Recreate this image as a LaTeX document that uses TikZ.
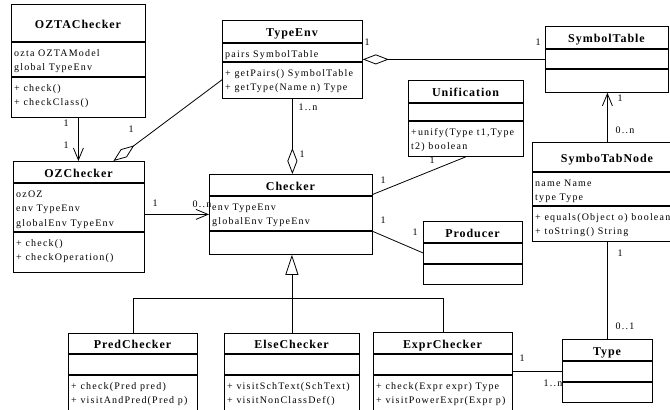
\documentclass[tikz,border=0pt]{standalone}
\usepackage{fontspec}
\setmainfont{Liberation Serif}
\newfontfamily\attrfont{Liberation Serif}[LetterSpace=12]
\newfontfamily\titlefont{Liberation Serif}[LetterSpace=8]
\usetikzlibrary{arrows.meta,calc}

% strut fixing the height of the first member line
\newcommand\lh{\rule{0pt}{8pt}}

% class box: name, left, top, right, bottom, first rule, second rule, title
\newcommand\umlclass[8]{%
  \node[classbox, minimum width={#4-#2}, minimum height={#5-#3}] (#1) at (#2,#3) {};
  \draw[seprule] (#2,#6) -- (#4,#6);
  \draw[seprule] (#2,#7) -- (#4,#7);
  \node[ctitle] (#1-title) at ({(#2+#4)/2},{(#3+#6)/2+5}) {#8};
}
% member list: node name, left, rule above, text
\newcommand\umlmembers[4]{%
  \node[members] (#1) at ({#2+3},{#3+6}) {\lh #4};
}

\begin{document}
\begin{tikzpicture}[x=1pt,y=-1pt,
  classbox/.style={draw, line width=0.8pt, inner sep=0pt, anchor=north west, fill=white},
  seprule/.style={line width=2pt},
  ctitle/.style={font=\titlefont\bfseries\fontsize{12}{14}\selectfont, inner sep=0pt, anchor=base},
  members/.style={font=\attrfont\fontsize{10}{14.5}\selectfont, align=left, inner sep=0pt, anchor=north west},
  mult/.style={font=\attrfont\fontsize{10}{12}\selectfont, inner sep=0pt},
  conn/.style={line width=0.8pt},
  aggr/.style={conn, {Diamond[open,fill=white,length=26pt,width=10pt]}-},
  nav/.style={conn, -{Straight Barb[length=12pt,width=10pt]}},
  inherit/.style={conn, -{Triangle[open,fill=white,length=20pt,width=13pt]}},
]
\useasboundingbox (0,0) rectangle (670,410);
\fill[white] (0,0) rectangle (670,410);
\clip (0,0) rectangle (670,410);

% ---------- classes ----------
\umlclass{oztachecker}{11}{4}{145}{117}{42}{77}{OZTAChecker}
\umlmembers{oztachecker-attrs}{11}{42}{ozta OZTAModel\\global TypeEnv}
\umlmembers{oztachecker-ops}{11}{77}{+ check()\\+ checkClass()}

\umlclass{typeenv}{222}{20}{362}{98}{43}{62}{TypeEnv}
\umlmembers{typeenv-attrs}{222}{43}{pairs SymbolTable}
\umlmembers{typeenv-ops}{222}{62}{+ getPairs() SymbolTable\\+ getType(Name n) Type}

\umlclass{symboltable}{545}{26}{668}{92}{49}{69}{SymbolTable}

\umlclass{unification}{408}{80}{523}{156}{103}{121}{Unification}
\umlmembers{unification-ops}{408}{121}{+unify(Type t1,Type\\t2) boolean}

\umlclass{symbotabnode}{532}{142}{682}{241}{172}{206}{SymboTabNode}
\umlmembers{symbotabnode-attrs}{532}{172}{name Name\\type Type}
\umlmembers{symbotabnode-ops}{532}{206}{+ equals(Object o) boolean\\+ toString() String}

\umlclass{ozchecker}{13}{161}{144}{272}{183}{232}{OZChecker}
\umlmembers{ozchecker-attrs}{13}{183}{ozOZ\\env TypeEnv\\globalEnv TypeEnv}
\umlmembers{ozchecker-ops}{13}{232}{+ check()\\+ checkOperation()}

\umlclass{checker}{209}{174}{372}{254}{196}{231}{Checker}
\umlmembers{checker-attrs}{209}{196}{env TypeEnv\\globalEnv TypeEnv}

\umlclass{producer}{423}{221}{522}{284}{243}{264}{Producer}

\umlclass{predchecker}{68}{333}{197}{416}{354}{375}{PredChecker}
\umlmembers{predchecker-ops}{68}{375}{+ check(Pred pred)\\+ visitAndPred(Pred p)}

\umlclass{elsechecker}{224}{333}{359}{416}{354}{375}{ElseChecker}
\umlmembers{elsechecker-ops}{224}{375}{+ visitSchText(SchText)\\+ visitNonClassDef()}

\umlclass{exprchecker}{373}{332}{512}{416}{354}{375}{ExprChecker}
\umlmembers{exprchecker-ops}{373}{375}{+ check(Expr expr) Type\\+ visitPowerExpr(Expr p)}

\umlclass{type}{562}{339}{652}{402}{361}{382}{Type}

% ---------- relations ----------
\draw[nav] (oztachecker.south) -- (oztachecker.south |- ozchecker.north);
\draw[aggr] ([xshift=34.5pt]ozchecker.north) -- ([yshift=19pt]typeenv.south west);
\draw[aggr] (typeenv.east) -- (symboltable.west);
\draw[aggr] (typeenv.south |- checker.north) -- (typeenv.south);
\draw[nav] (checker.west -| ozchecker.east) -- (checker.west);
\draw[conn] ([yshift=20pt]checker.east) -- (unification.south);
\draw[conn] ([yshift=-17pt]checker.east) -- (producer.west);
\draw[nav] (symbotabnode.north) -- (symbotabnode.north |- symboltable.south);
\draw[conn] (type.north) -- (type.north |- symbotabnode.south);
\draw[conn] (type.west -| exprchecker.east) -- (type.west);

% generalization tree
\coordinate (genbus) at (0,298);
\draw[inherit] (elsechecker.north) -- (elsechecker.north |- checker.south);
\draw[conn] (predchecker.north) -- (predchecker.north |- genbus)
  -- (exprchecker.north |- genbus) -- (exprchecker.north);

% ---------- multiplicities ----------
\node[mult] (mul-ozta) at (66,123) {1};
\node[mult] (mul-oz-top) at (66,145) {1};
\node[mult] (mul-oz-env) at (131,129) {1};
\node[mult] (mul-env-st) at (367,42) {1};
\node[mult] (mul-st-env) at (538,42) {1};
\node[mult] (mul-env-ck) at (308,107) {1..n};
\node[mult] (mul-ck-env) at (302,154) {1};
\node[mult] (mul-oz-ck) at (155,203) {1};
\node[mult] (mul-ck-oz) at (202,204) {0..n};
\node[mult] (mul-ck-un) at (383,180) {1};
\node[mult] (mul-un-ck) at (432,160) {1};
\node[mult] (mul-ck-pr) at (383,220) {1};
\node[mult] (mul-pr-ck) at (415,232) {1};
\node[mult] (mul-st-node) at (620,98) {1};
\node[mult] (mul-node-st) at (625,130) {0..n};
\node[mult] (mul-node-ty) at (620,253) {1};
\node[mult] (mul-ty-node) at (625,326) {0..1};
\node[mult] (mul-ex-ty) at (522,358) {1};
\node[mult] (mul-ty-ex) at (553,383) {1..n};
\end{tikzpicture}
\end{document}
